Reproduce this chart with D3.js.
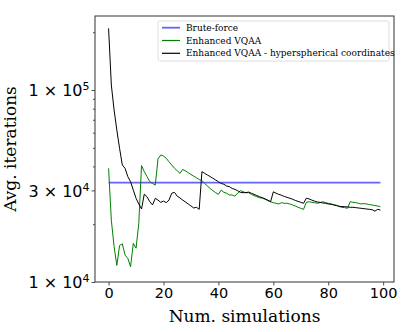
<!DOCTYPE html>
<html>
<head>
<meta charset="utf-8">
<script src="https://cdn.jsdelivr.net/npm/d3@7"></script>
<style>
body { margin: 0; background: #fff; }
.tick text { font-family: 'DejaVu Sans', sans-serif; fill: #000; }
.axis-label { font-family: 'DejaVu Serif', serif; font-size: 17px; fill: #000; }
.legend-text { font-family: 'DejaVu Serif', serif; font-size: 9px; fill: #000; }
</style>
</head>
<body>
<div id="chart"></div>
<script>
// one value per simulation count (0..99)
var enhanced = [
  39100, 21000, 15300, 12200, 15500, 15800, 13800, 13300, 12000, 15900,
  15000, 20200, 40400, 37600, 35400, 33300, 32600, 32000, 43800, 45900,
  45300, 44100, 42300, 40700, 39100, 38000, 36800, 38600, 37900, 37100,
  36300, 35600, 34900, 34200, 33700, 32600, 31600, 30700, 29900, 29200,
  28600, 30100, 29300, 29000, 28400, 28400, 28000, 29000, 29900, 29500,
  29200, 29200, 28600, 28200, 27800, 27500, 27300, 27000, 26500, 26200,
  25900, 25700, 25500, 25900, 25700, 25700, 25500, 25200, 24900, 24500,
  24200, 23900, 26000, 26200, 26000, 25900, 25700, 25900, 26200, 25900,
  25700, 25500, 25300, 25100, 24700, 24500, 24400, 24200, 26200, 26000,
  25900, 25700, 25500, 25600, 25500, 25300, 25200, 25000, 24900, 24700
]

var hyperspherical = [
  209500, 106200, 78700, 61900, 49700, 40700, 39100, 35400, 33300, 30100,
  27300, 25500, 24000, 28700, 27800, 26200, 25200, 27300, 26700, 26000,
  26400, 25900, 26700, 29000, 29300, 28000, 27400, 26700, 26100, 25500,
  24900, 24300, 24500, 23900, 37600, 36800, 36100, 35400, 34700, 34000,
  33300, 32600, 32300, 31600, 31400, 30700, 30400, 29900, 29300, 29200,
  29200, 29400, 29000, 28600, 28200, 27800, 27500, 27100, 26700, 26200,
  29500, 29000, 28600, 28300, 27900, 27600, 27300, 27000, 26600, 26300,
  26000, 25700, 27300, 27100, 26700, 26400, 26100, 26000, 25800, 25700,
  25500, 25400, 25200, 25000, 24800, 24700, 24700, 24600, 24500, 24500,
  24400, 24300, 24200, 24100, 24000, 23900, 23800, 23400, 23900, 23700
]

var bruteForce = [32900, 32900]   // flat line, first and last simulation
var bruteForceSims = [0, 99]

var xTicks = [0, 20, 40, 60, 80, 100]
var yTicks = [1e4, 3e4, 1e5]
var yMinorTicks = [2e4, 4e4, 5e4, 6e4, 7e4, 8e4, 9e4, 2e5]

var seriesNames = ['Brute-force', 'Enhanced VQAA', 'Enhanced VQAA - hyperspherical coordinates']
var seriesColors = ['#6464fa', '#008000', '#000000']

var totalWidth = 415, totalHeight = 332
var margin = {left: 95, right: 21, top: 16, bottom: 50}
var width = totalWidth - margin.left - margin.right
var height = totalHeight - margin.top - margin.bottom

var svg = d3.select('#chart').append('svg')
  .attr('width', totalWidth)
  .attr('height', totalHeight)

var g = svg.append('g').attr('transform', 'translate(' + margin.left + ',' + margin.top + ')')

var x = d3.scaleLinear().domain([-4.95, 103.95]).range([0, width])
var y = d3.scaleLog().domain([1e4, 2.43e5]).range([height, 0])

// axes
var xAxis = g.append('g')
  .attr('transform', 'translate(0,' + height + ')')
  .call(d3.axisBottom(x).tickValues(xTicks).tickSize(3.5).tickPadding(1.8).tickFormat(d3.format('d')))
xAxis.selectAll('text').style('font-size', '14.5px')

var yMinor = g.append('g')
  .call(d3.axisLeft(y).tickValues(yMinorTicks).tickSize(2).tickFormat(''))

var yAxis = g.append('g')
  .call(d3.axisLeft(y).tickValues(yTicks).tickSize(3.5).tickPadding(2))

yAxis.selectAll('.tick text').each(function(d){
  var exp = Math.floor(Math.log10(d) + 1e-9)
  var mant = Math.round(d / Math.pow(10, exp))
  var t = d3.select(this).text(null).attr('dy', '0.36em').style('font-size', '16px')
  t.append('tspan').text(mant + ' \u00d7 10')
  t.append('tspan').attr('dy', -6).style('font-size', '11px').text(exp)
})

g.selectAll('.domain').remove()
g.selectAll('.tick line').attr('stroke', '#222').attr('stroke-width', 0.8)

// lines
var line = d3.line()
  .x(function(d){ return x(d[0]) })
  .y(function(d){ return y(d[1]) })

function pairs(arr){ return arr.map(function(v, i){ return [i, v] }) }

g.append('path')
  .attr('d', line(bruteForce.map(function(v, i){ return [bruteForceSims[i], v] })))
  .attr('fill', 'none').attr('stroke', seriesColors[0]).attr('stroke-width', 1.8)

g.append('path')
  .attr('d', line(pairs(enhanced)))
  .attr('fill', 'none').attr('stroke', seriesColors[1]).attr('stroke-width', 1)

g.append('path')
  .attr('d', line(pairs(hyperspherical)))
  .attr('fill', 'none').attr('stroke', seriesColors[2]).attr('stroke-width', 1)

// frame
g.append('rect')
  .attr('width', width).attr('height', height)
  .attr('fill', 'none').attr('stroke', '#333').attr('stroke-width', 1)

// legend
var legend = g.append('g').attr('transform', 'translate(' + (width - 236) + ',5)')
legend.append('rect')
  .attr('width', 231).attr('height', 40).attr('rx', 2)
  .attr('fill', '#fff').attr('fill-opacity', 0.8)
  .attr('stroke', '#d6d6d6').attr('stroke-width', 0.8)

seriesNames.forEach(function(name, i){
  var yy = 6.7 + i * 12.8
  legend.append('line')
    .attr('x1', 4).attr('x2', 22).attr('y1', yy).attr('y2', yy)
    .attr('stroke', seriesColors[i]).attr('stroke-width', i == 0 ? 1.8 : 1.2)
  legend.append('text').attr('class', 'legend-text')
    .attr('x', 28).attr('y', yy).attr('dy', '0.35em')
    .text(name)
})

// axis labels
svg.append('text').attr('class', 'axis-label')
  .attr('x', margin.left + width / 2).attr('y', 321.5)
  .attr('text-anchor', 'middle')
  .text('Num. simulations')

svg.append('text').attr('class', 'axis-label')
  .attr('transform', 'translate(15.5,' + (margin.top + height / 2) + ') rotate(-90)')
  .attr('text-anchor', 'middle')
  .text('Avg. iterations')
</script>
</body>
</html>
